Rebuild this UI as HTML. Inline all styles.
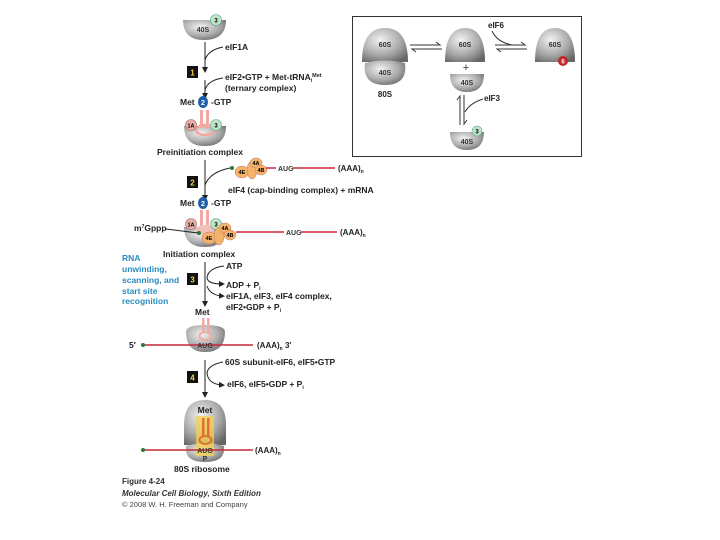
<!DOCTYPE html>
<html><head><meta charset="utf-8"><style>
html,body{margin:0;padding:0;background:#fff;}
svg{display:block;}
text{font-family:"Liberation Sans",sans-serif;}
.b{font-weight:bold;font-size:8.5px;fill:#222;}
.s{font-weight:bold;font-size:8px;fill:#222;}
.w{font-size:7px;font-weight:bold;fill:#333;}
.bl{font-weight:bold;font-size:8.5px;fill:#2a8bc0;}
</style></head><body>
<svg width="720" height="540" viewBox="0 0 720 540" xmlns="http://www.w3.org/2000/svg">
<defs>
<radialGradient id="g" cx="40%" cy="35%" r="75%">
<stop offset="0" stop-color="#f2f2f2"/><stop offset="0.6" stop-color="#a8a8a8"/><stop offset="1" stop-color="#666"/></radialGradient>
<marker id="a" markerWidth="6" markerHeight="6" refX="3" refY="3" orient="auto"><path d="M0,0 L6,3 L0,6 z" fill="#222"/></marker>
</defs>
<rect x="352.5" y="16.5" width="229" height="140" fill="none" stroke="#333" stroke-width="1"/>
<path d="M362,62 Q362,28 385,28 Q408,28 408,62 Z" fill="url(#g)"/>
<path d="M365,63 Q385,58 405,63 Q408,85 385,85 Q362,85 365,63 Z" fill="url(#g)"/>
<text class="w" x="385" y="47" text-anchor="middle">60S</text>
<text class="w" x="385" y="75" text-anchor="middle">40S</text>
<text class="s" x="385" y="97" text-anchor="middle">80S</text>
<path d="M410,45 L440,45 L436,42 M442,49 L412,49 L416,52" stroke="#333" fill="none" stroke-width="1"/>
<path d="M445,62 Q445,28 465,28 Q485,28 485,62 Z" fill="url(#g)"/>
<text class="w" x="465" y="47" text-anchor="middle">60S</text>
<text x="466" y="71" font-size="11" text-anchor="middle" fill="#333">+</text>
<path d="M450,74 L484,74 Q484,92 467,92 Q450,92 450,74 Z" fill="url(#g)"/>
<text class="w" x="467" y="85" text-anchor="middle">40S</text>
<path d="M495,45 L525,45 L521,42 M527,49 L497,49 L501,52" stroke="#333" fill="none" stroke-width="1"/>
<text class="s" x="488" y="28">eIF6</text>
<path d="M492,31 Q497,42 512,45" stroke="#333" fill="none"/>
<path d="M535,62 Q535,28 555,28 Q575,28 575,62 Z" fill="url(#g)"/>
<text class="w" x="555" y="47" text-anchor="middle">60S</text>
<circle cx="563" cy="61" r="5" fill="#c0282b"/><text x="563" y="63.5" font-size="6" fill="#fff" text-anchor="middle" font-weight="bold">6</text>
<path d="M460,125 L460,96 L457,100 M464,95 L464,124 L467,120" stroke="#333" fill="none"/>
<text class="s" x="484" y="101">eIF3</text>
<path d="M483,99 Q470,103 465,112" stroke="#333" fill="none"/>
<path d="M450,132 L484,132 Q484,150 467,150 Q450,150 450,132 Z" fill="url(#g)"/>
<text class="w" x="467" y="144" text-anchor="middle">40S</text>
<circle cx="477" cy="131" r="5" fill="#bfe3c3" stroke="#5a9" stroke-width="0.6"/><text x="477" y="133.5" font-size="6" text-anchor="middle" font-weight="bold">3</text>

<path d="M183,20 L226,20 Q226,40 204,40 Q183,40 183,20 Z" fill="url(#g)"/>
<text class="w" x="203" y="32" text-anchor="middle">40S</text>
<circle cx="216" cy="20" r="5.5" fill="#bfe3c3" stroke="#5a9" stroke-width="0.6"/><text x="216" y="22.5" font-size="6" text-anchor="middle" font-weight="bold">3</text>
<line x1="205" y1="42" x2="205" y2="70" stroke="#222" marker-end="url(#a)"/>
<path d="M223,47 Q208,50 205,60" stroke="#222" fill="none"/>
<text class="b" x="225" y="50">eIF1A</text>
<rect x="187" y="66" width="11" height="12" fill="#111"/><text x="192.5" y="75.5" font-size="8" fill="#f5d442" text-anchor="middle" font-weight="bold">1</text>
<line x1="205" y1="80" x2="205" y2="96" stroke="#222" marker-end="url(#a)"/>
<path d="M223,78 Q208,80 205,90" stroke="#222" fill="none"/>
<text class="b" x="225" y="80">eIF2•GTP + Met-tRNA<tspan font-size="5" dy="2">i</tspan><tspan font-size="5.5" dy="-5">Met</tspan></text>
<text class="b" x="225" y="91">(ternary complex)</text>
<text class="b" x="180" y="105">Met</text>
<ellipse cx="203" cy="102" rx="5" ry="6" fill="#1f5fa8"/><text x="203" y="105" font-size="7" fill="#fff" text-anchor="middle" font-weight="bold">2</text>
<text class="b" x="211" y="105">-GTP</text>
<path d="M184,126 L226,126 Q226,146 205,146 Q184,146 184,126 Z" fill="url(#g)"/>
<rect x="200" y="110" width="3" height="18" fill="#f3a8a0"/><rect x="206" y="110" width="3" height="18" fill="#f3a8a0"/>
<ellipse cx="205" cy="130" rx="9" ry="5" fill="none" stroke="#f3a8a0" stroke-width="2.5"/>
<circle cx="191" cy="125" r="5.5" fill="#e7b0a8" stroke="#a66" stroke-width="0.6"/><text x="191" y="127.5" font-size="5.5" text-anchor="middle" font-weight="bold">1A</text>
<circle cx="216" cy="125" r="5.5" fill="#bfe3c3" stroke="#5a9" stroke-width="0.6"/><text x="216" y="127.5" font-size="6" text-anchor="middle" font-weight="bold">3</text>
<text class="b" x="157" y="155">Preinitiation complex</text>
<g>
<circle cx="232" cy="168" r="2" fill="#2a7a3a"/>
<ellipse cx="242" cy="172" rx="7" ry="6" fill="#f5b36a" stroke="#b77" stroke-width="0.5"/>
<ellipse cx="252" cy="170" rx="5" ry="9" fill="#f5b36a" stroke="#b77" stroke-width="0.5"/>
<ellipse cx="256" cy="163" rx="6" ry="5" fill="#f5b36a" stroke="#b77" stroke-width="0.5"/>
<ellipse cx="261" cy="170" rx="6" ry="5" fill="#f5b36a" stroke="#b77" stroke-width="0.5"/>
<text x="242" y="174" font-size="5.5" text-anchor="middle" font-weight="bold">4E</text>
<text x="256" y="165" font-size="5.5" text-anchor="middle" font-weight="bold">4A</text>
<text x="261" y="172" font-size="5.5" text-anchor="middle" font-weight="bold">4B</text>
</g>
<line x1="266" y1="168" x2="276" y2="168" stroke="#c8283a" stroke-width="1.5"/>
<text class="w" x="278" y="171">AUG</text>
<line x1="293" y1="168" x2="335" y2="168" stroke="#c8283a" stroke-width="1.5"/>
<text class="s" x="338" y="171">(AAA)<tspan font-size="5" dy="2">n</tspan></text>
<rect x="187" y="176" width="11" height="12" fill="#111"/><text x="192.5" y="185.5" font-size="8" fill="#f5d442" text-anchor="middle" font-weight="bold">2</text>
<line x1="205" y1="160" x2="205" y2="198" stroke="#222" marker-end="url(#a)"/>
<path d="M230,168 Q210,172 205,185" stroke="#222" fill="none"/>
<text class="b" x="228" y="193">eIF4 (cap-binding complex) + mRNA</text>
<text class="b" x="180" y="206">Met</text>
<ellipse cx="203" cy="203" rx="5" ry="6" fill="#1f5fa8"/><text x="203" y="206" font-size="7" fill="#fff" text-anchor="middle" font-weight="bold">2</text>
<text class="b" x="211" y="206">-GTP</text>
<path d="M184,227 L226,227 Q226,247 205,247 Q184,247 184,227 Z" fill="url(#g)"/>
<rect x="200" y="210" width="3" height="18" fill="#f3a8a0"/><rect x="206" y="210" width="3" height="18" fill="#f3a8a0"/>
<ellipse cx="205" cy="230" rx="9" ry="5" fill="#f3c0b8"/>
<circle cx="191" cy="224" r="5.5" fill="#e7b0a8" stroke="#a66" stroke-width="0.6"/><text x="191" y="226.5" font-size="5.5" text-anchor="middle" font-weight="bold">1A</text>
<circle cx="216" cy="224" r="5.5" fill="#bfe3c3" stroke="#5a9" stroke-width="0.6"/><text x="216" y="226.5" font-size="6" text-anchor="middle" font-weight="bold">3</text>
<circle cx="199" cy="233" r="2" fill="#2a7a3a"/>
<ellipse cx="209" cy="238" rx="7" ry="6" fill="#f5b36a" stroke="#b77" stroke-width="0.5"/>
<ellipse cx="219" cy="236" rx="5" ry="9" fill="#f5b36a" stroke="#b77" stroke-width="0.5"/>
<ellipse cx="225" cy="228" rx="6" ry="5" fill="#f5b36a" stroke="#b77" stroke-width="0.5"/>
<ellipse cx="230" cy="235" rx="6" ry="5" fill="#f5b36a" stroke="#b77" stroke-width="0.5"/>
<text x="209" y="240" font-size="5.5" text-anchor="middle" font-weight="bold">4E</text>
<text x="225" y="230" font-size="5.5" text-anchor="middle" font-weight="bold">4A</text>
<text x="230" y="237" font-size="5.5" text-anchor="middle" font-weight="bold">4B</text>
<text class="b" x="134" y="231">m<tspan font-size="5" dy="-3">7</tspan><tspan dy="3">Gppp</tspan></text>
<line x1="166" y1="229" x2="198" y2="233" stroke="#222"/>
<line x1="236" y1="232" x2="284" y2="232" stroke="#c8283a" stroke-width="1.5"/>
<text class="w" x="286" y="235">AUG</text>
<line x1="301" y1="232" x2="337" y2="232" stroke="#c8283a" stroke-width="1.5"/>
<text class="s" x="340" y="235">(AAA)<tspan font-size="5" dy="2">n</tspan></text>
<text class="b" x="163" y="257">Initiation complex</text>
<text class="bl" x="122" y="261">RNA</text>
<text class="bl" x="122" y="272">unwinding,</text>
<text class="bl" x="122" y="283">scanning, and</text>
<text class="bl" x="122" y="294">start site</text>
<text class="bl" x="122" y="304">recognition</text>
<line x1="205" y1="262" x2="205" y2="304" stroke="#222" marker-end="url(#a)"/>
<text class="b" x="226" y="269">ATP</text>
<path d="M224,266 Q208,268 207,278 Q208,284 222,284" stroke="#222" fill="none" marker-end="url(#a)"/>
<rect x="187" y="273" width="11" height="12" fill="#111"/><text x="192.5" y="282.5" font-size="8" fill="#f5d442" text-anchor="middle" font-weight="bold">3</text>
<text class="b" x="226" y="288">ADP + P<tspan font-size="5" dy="2">i</tspan></text>
<path d="M207,286 Q210,295 222,296" stroke="#222" fill="none" marker-end="url(#a)"/>
<text class="b" x="226" y="299">eIF1A, eIF3, eIF4 complex,</text>
<text class="b" x="226" y="310">eIF2•GDP + P<tspan font-size="5" dy="2">i</tspan></text>
<text class="b" x="195" y="315">Met</text>
<path d="M186,332 Q186,325 205,325 Q225,325 225,332 Q225,352 205,352 Q186,352 186,332 Z" fill="url(#g)"/>
<rect x="202" y="318" width="2.5" height="14" fill="#f3a8a0"/><rect x="207" y="318" width="2.5" height="14" fill="#f3a8a0"/>
<ellipse cx="205.5" cy="336" rx="6" ry="4" fill="none" stroke="#f3a8a0" stroke-width="2"/>
<line x1="143" y1="345" x2="253" y2="345" stroke="#c8283a" stroke-width="1.5"/>
<circle cx="143" cy="345" r="2" fill="#2a7a3a"/>
<text class="w" x="205" y="348" text-anchor="middle" fill="#fff">AUG</text>
<text class="b" x="129" y="348">5′</text>
<text class="s" x="257" y="348">(AAA)<tspan font-size="5" dy="2">n</tspan><tspan dy="-2">  3′</tspan></text>
<line x1="205" y1="360" x2="205" y2="395" stroke="#222" marker-end="url(#a)"/>
<text class="b" x="225" y="365">60S subunit-eIF6, eIF5•GTP</text>
<path d="M223,362 Q208,365 207,373 Q208,384 222,385" stroke="#222" fill="none" marker-end="url(#a)"/>
<rect x="187" y="371" width="11" height="12" fill="#111"/><text x="192.5" y="380.5" font-size="8" fill="#f5d442" text-anchor="middle" font-weight="bold">4</text>
<text class="b" x="227" y="387">eIF6, eIF5•GDP + P<tspan font-size="5" dy="2">i</tspan></text>
<path d="M184,445 L184,425 Q184,400 205,400 Q226,400 226,425 L226,445 Z" fill="url(#g)"/>
<path d="M186,446 Q205,440 224,446 Q226,462 205,462 Q184,462 186,446 Z" fill="url(#g)"/>
<rect x="196" y="416" width="18" height="40" fill="#f5d050" opacity="0.75"/>
<rect x="202" y="418" width="2.5" height="18" fill="#e07030"/><rect x="207" y="418" width="2.5" height="18" fill="#e07030"/>
<ellipse cx="205.5" cy="440" rx="6" ry="4" fill="none" stroke="#e07030" stroke-width="2"/>
<text class="b" x="205" y="413" text-anchor="middle">Met</text>
<line x1="143" y1="450" x2="253" y2="450" stroke="#c8283a" stroke-width="1.5"/>
<circle cx="143" cy="450" r="2" fill="#2a7a3a"/>
<text class="w" x="205" y="453" text-anchor="middle">AUG</text>
<text class="w" x="205" y="461" text-anchor="middle">P</text>
<text class="s" x="255" y="453">(AAA)<tspan font-size="5" dy="2">n</tspan></text>
<text class="b" x="174" y="472">80S ribosome</text>
<text x="122" y="484" font-size="8" fill="#333" font-weight="bold">Figure 4-24</text>
<text x="122" y="496" font-size="8" fill="#333" font-style="italic" font-weight="bold">Molecular Cell Biology, Sixth Edition</text>
<text x="122" y="507" font-size="7.5" fill="#444">© 2008 W. H. Freeman and Company</text>
</svg>
</body></html>
